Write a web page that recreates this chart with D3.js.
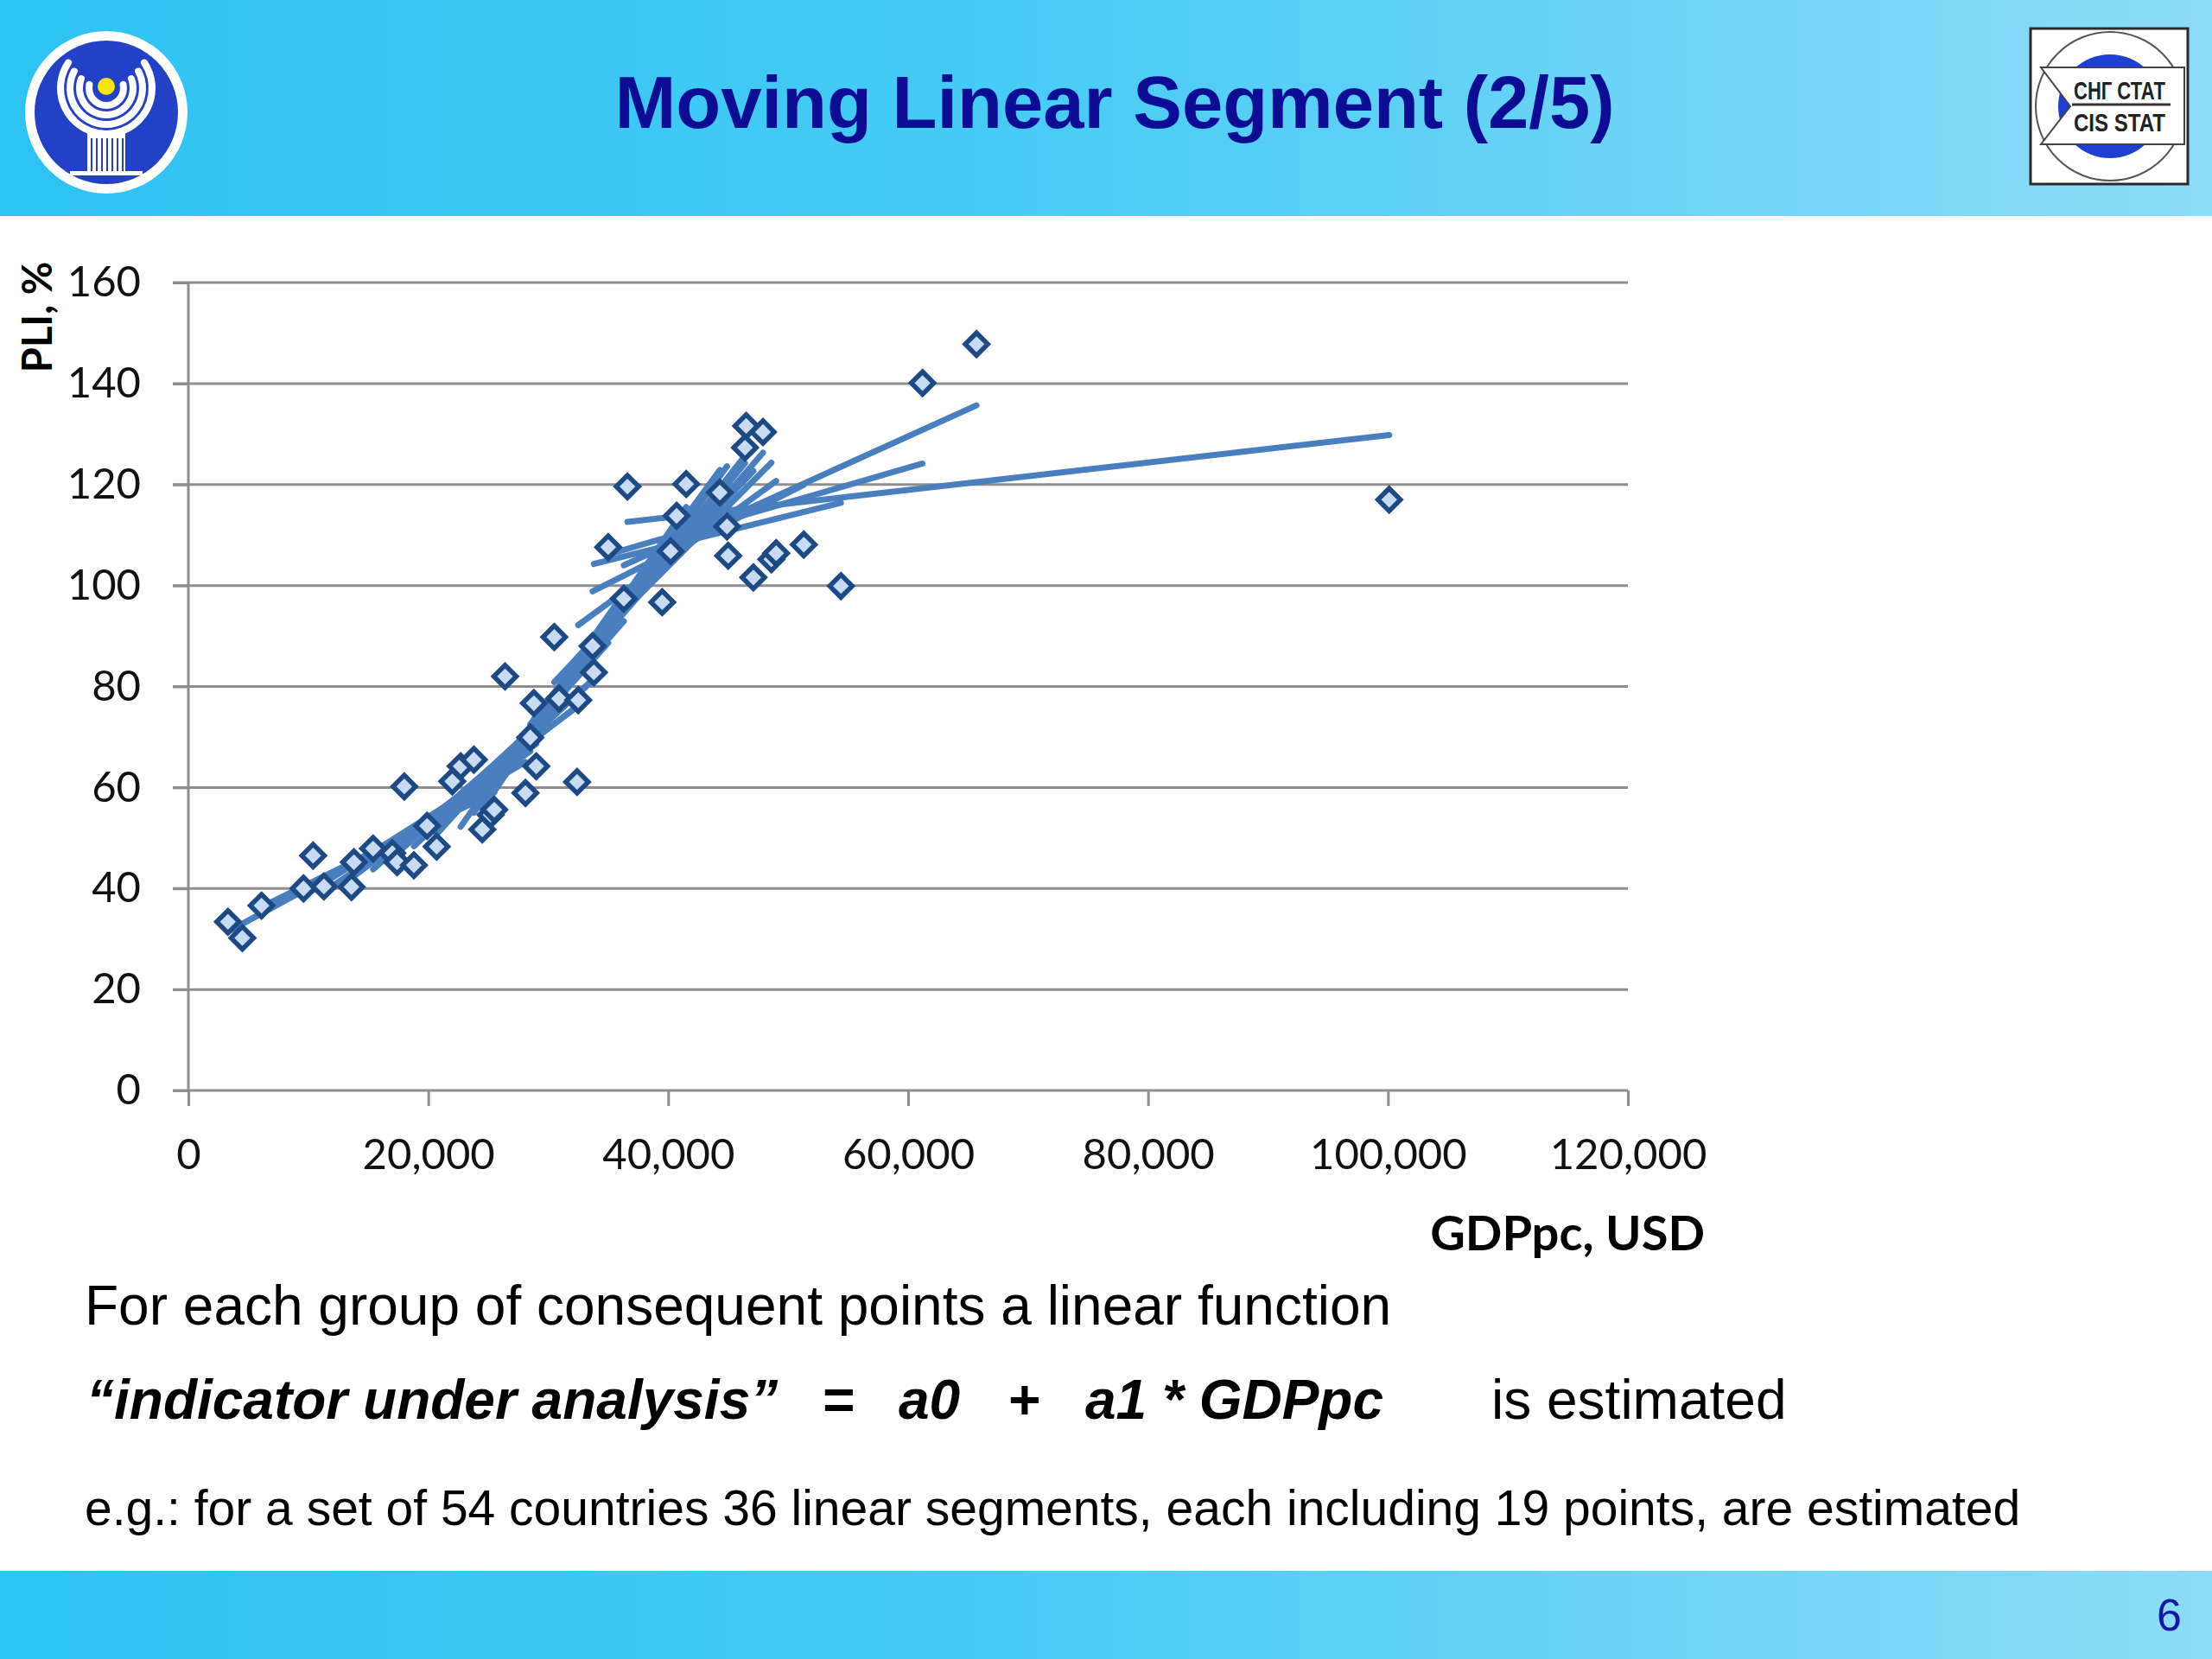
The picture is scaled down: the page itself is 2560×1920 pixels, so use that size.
<!DOCTYPE html>
<html>
<head>
<meta charset="utf-8">
<script src="https://cdn.jsdelivr.net/npm/d3@7"></script>
<style>
  body { margin: 0; background: #fff; }
  svg { display: block; }
</style>
</head>
<body>
<script>
const W = 2560
const H = 1920

// GDP per capita (USD) and price level index (%) for the countries, sorted by GDP
const gdp = [3300, 4500, 6100, 9600, 10400, 11300, 13600, 13800, 15400, 17000,
  17400, 18000, 18800, 19900, 20700, 22000, 22700, 23800, 24500, 25200,
  25500, 26400, 28100, 28500, 28800, 29000, 30500, 30900, 32400, 32500,
  33700, 33800, 35000, 36300, 36600, 39500, 40200, 40700, 41500, 44300,
  44900, 45000, 46400, 46500, 47100, 47900, 48600, 49000, 51300, 54400,
  61200, 65700, 100100]
const pli = [33.4, 30.2, 36.6, 40.0, 46.5, 40.4, 40.3, 45.2, 47.9, 47.0,
  45.2, 60.2, 44.6, 52.4, 48.3, 61.2, 64.2, 65.5, 51.7, 54.6,
  55.6, 82.0, 58.9, 69.9, 76.7, 64.2, 89.8, 77.6, 61.1, 77.3,
  88.0, 82.8, 107.6, 97.4, 119.6, 96.7, 106.8, 113.8, 120.1, 118.4,
  111.7, 105.9, 127.3, 131.6, 101.6, 130.4, 105.2, 106.4, 108.1, 99.9,
  140.1, 147.8, 117.0]
const windowSize = 19

const xTicks = [0, 20000, 40000, 60000, 80000, 100000, 120000]
const yTicks = [0, 20, 40, 60, 80, 100, 120, 140, 160]

const titleText = 'Moving Linear Segment (2/5)'
const yTitle = 'PLI, %'
const xTitle = 'GDPpc, USD'

const svg = d3.select('body').append('svg')
  .attr('width', W)
  .attr('height', H)

const defs = svg.append('defs')
const grad = defs.append('linearGradient').attr('id', 'band')
  .attr('x1', 0).attr('x2', 1).attr('y1', 0).attr('y2', 0)
grad.append('stop').attr('offset', '0%').attr('stop-color', '#2dc2f2')
grad.append('stop').attr('offset', '45%').attr('stop-color', '#46cbf5')
grad.append('stop').attr('offset', '100%').attr('stop-color', '#8ddcf7')

// header and footer bands
svg.append('rect').attr('x', 0).attr('y', 0).attr('width', W).attr('height', 250)
  .attr('fill', 'url(#band)')
svg.append('rect').attr('x', 0).attr('y', 1818).attr('width', W).attr('height', H - 1818)
  .attr('fill', 'url(#band)')

svg.append('text')
  .attr('x', 1290).attr('y', 148)
  .attr('text-anchor', 'middle')
  .attr('font-family', '"Liberation Sans", Arial, sans-serif')
  .attr('font-weight', 'bold')
  .attr('font-size', 85)
  .attr('fill', '#0c0c94')
  .text(titleText)

svg.append('text')
  .attr('x', 2525).attr('y', 1887)
  .attr('text-anchor', 'end')
  .attr('font-family', '"Liberation Sans", Arial, sans-serif')
  .attr('font-size', 52)
  .attr('fill', '#1616a8')
  .text('6')

// left emblem
const emb = svg.append('g').attr('transform', 'translate(123,130)')
emb.append('circle').attr('r', 94).attr('fill', '#ffffff')
emb.append('circle').attr('r', 83).attr('fill', '#2341c6')
const armRadii = [20, 31, 42, 53]
const arm = d3.arc()
  .innerRadius(d => d - 4)
  .outerRadius(d => d + 4)
  .startAngle(d => Math.PI * (0.42 - d / 400))
  .endAngle(d => Math.PI * (1.58 + d / 400))
  .cornerRadius(4)
emb.append('g').attr('transform', 'translate(0,-28)')
  .selectAll('path').data(armRadii).enter().append('path')
  .attr('d', arm)
  .attr('fill', '#ffffff')
emb.append('circle').attr('cy', -30).attr('r', 10).attr('fill', '#f5e50a')
emb.append('rect').attr('x', -22).attr('y', 24).attr('width', 44).attr('height', 48).attr('fill', '#ffffff')
emb.selectAll('rect.stripe').data(d3.range(-18, 20, 6)).enter().append('rect')
  .attr('class', 'stripe')
  .attr('x', d => d).attr('y', 30).attr('width', 2).attr('height', 38)
  .attr('fill', '#2341c6')
emb.append('rect').attr('x', -42).attr('y', 68).attr('width', 84).attr('height', 5).attr('fill', '#ffffff')

// right logo
const logo = svg.append('g')
logo.append('rect').attr('x', 2350).attr('y', 33).attr('width', 182).attr('height', 180)
  .attr('fill', '#ffffff').attr('stroke', '#2a2a2a').attr('stroke-width', 3)
logo.append('circle').attr('cx', 2442).attr('cy', 123).attr('r', 86)
  .attr('fill', 'none').attr('stroke', '#555').attr('stroke-width', 2)
logo.append('circle').attr('cx', 2442).attr('cy', 123).attr('r', 60).attr('fill', '#1f3fd2')
logo.append('path')
  .attr('d', 'M2362,78 L2528,78 L2528,167 L2362,167 L2396,123 Z')
  .attr('fill', '#ffffff').attr('stroke', '#444').attr('stroke-width', 2)
logo.append('line').attr('x1', 2398).attr('x2', 2512).attr('y1', 121).attr('y2', 121)
  .attr('stroke', '#333').attr('stroke-width', 3)
;[['СНГ СТАТ', 115], ['CIS STAT', 152]].forEach(function (d) {
  logo.append('text').attr('x', 2400).attr('y', d[1])
    .attr('textLength', 106).attr('lengthAdjust', 'spacingAndGlyphs')
    .attr('font-family', '"Liberation Sans", Arial, sans-serif').attr('font-weight', 'bold')
    .attr('font-size', 30).attr('fill', '#222').text(d[0])
})

// chart
const xScale = d3.scaleLinear().domain([0, 120000]).range([218, 1884])
const yScale = d3.scaleLinear().domain([0, 160]).range([1262, 327])

const chart = svg.append('g').attr('font-family', 'Lato, "Open Sans", sans-serif')

const gridCol = '#8e8e8e'
chart.append('g').selectAll('line').data(yTicks.filter(d => d > 0)).enter().append('line')
  .attr('x1', 200).attr('x2', xScale(120000))
  .attr('y1', d => yScale(d)).attr('y2', d => yScale(d))
  .attr('stroke', gridCol).attr('stroke-width', 3)

const yAxis = chart.append('g')
  .attr('transform', `translate(${xScale(0)},0)`)
  .call(d3.axisLeft(yScale).tickValues(yTicks).tickSize(18).tickPadding(37).tickFormat(d3.format('d')))
const xAxis = chart.append('g')
  .attr('transform', `translate(0,${yScale(0)})`)
  .call(d3.axisBottom(xScale).tickValues(xTicks).tickSize(18).tickPadding(38).tickFormat(d3.format(',')))

;[yAxis, xAxis].forEach(function (ax) {
  ax.selectAll('path.domain').attr('stroke', gridCol).attr('stroke-width', 3)
  ax.selectAll('.tick line').attr('stroke', gridCol).attr('stroke-width', 3)
  ax.selectAll('text')
    .attr('font-family', 'Lato, "Open Sans", sans-serif')
    .attr('font-size', 49)
    .attr('fill', '#111')
})
yAxis.select('path.domain').attr('d', `M0,${yScale(0)}V${yScale(160)}`)
xAxis.select('path.domain').attr('d', `M${xScale(0) - 18},0H${xScale(120000)}`)

chart.append('text')
  .attr('transform', `translate(60,367) rotate(-90)`)
  .attr('text-anchor', 'middle')
  .attr('font-weight', 'bold')
  .attr('font-size', 47)
  .attr('fill', '#000')
  .text(yTitle)

chart.append('text')
  .attr('x', 1973).attr('y', 1447)
  .attr('text-anchor', 'end')
  .attr('font-weight', 'bold')
  .attr('font-size', 56)
  .attr('fill', '#000')
  .text(xTitle)

// moving linear segments: least squares over each window of consecutive points
const pts = gdp.map((g, i) => ({ x: g, y: pli[i] }))
const segments = []
for (let i = 0; i + windowSize <= pts.length; i++) {
  const win = pts.slice(i, i + windowSize)
  const mx = d3.mean(win, d => d.x)
  const my = d3.mean(win, d => d.y)
  const sxy = d3.sum(win, d => (d.x - mx) * (d.y - my))
  const sxx = d3.sum(win, d => (d.x - mx) * (d.x - mx))
  const a1 = sxy / sxx
  const a0 = my - a1 * mx
  const x0 = win[0].x
  const x1 = win[win.length - 1].x
  segments.push([{ x: x0, y: a0 + a1 * x0 }, { x: x1, y: a0 + a1 * x1 }])
}

const lineFun = d3.line().x(d => xScale(d.x)).y(d => yScale(d.y))
chart.append('g').selectAll('path').data(segments).enter().append('path')
  .attr('d', lineFun)
  .attr('stroke', '#4a7fbf')
  .attr('stroke-width', 7)
  .attr('stroke-linecap', 'round')
  .attr('fill', 'none')

const diamond = d3.symbol().type(d3.symbolSquare).size(340)
chart.append('g').selectAll('path').data(pts).enter().append('path')
  .attr('d', diamond)
  .attr('transform', d => `translate(${xScale(d.x)},${yScale(d.y)}) rotate(45)`)
  .attr('fill', '#c8dbf2')
  .attr('stroke', '#1d4a84')
  .attr('stroke-width', 5.5)

// explanatory text
const body = svg.append('g').attr('font-family', '"Liberation Sans", Arial, sans-serif').attr('fill', '#000')
body.append('text').attr('x', 98).attr('y', 1533).attr('font-size', 64)
  .text('For each group of consequent points a linear function')

const formula = [
  { t: '\u201Cindicator under analysis\u201D', x: 100 },
  { t: '=', x: 951 },
  { t: 'a0', x: 1040 },
  { t: '+', x: 1166 },
  { t: 'a1 * GDPpc', x: 1256 }
]
body.selectAll('text.f').data(formula).enter().append('text')
  .attr('class', 'f')
  .attr('x', d => d.x).attr('y', 1642)
  .attr('font-size', 64)
  .attr('font-weight', 'bold')
  .attr('font-style', 'italic')
  .text(d => d.t)
body.append('text').attr('x', 1726).attr('y', 1642).attr('font-size', 64)
  .text('is estimated')

body.append('text').attr('x', 98).attr('y', 1765).attr('font-size', 57)
  .text('e.g.: for a set of 54 countries 36 linear segments, each including 19 points, are estimated')
</script>
</body>
</html>
